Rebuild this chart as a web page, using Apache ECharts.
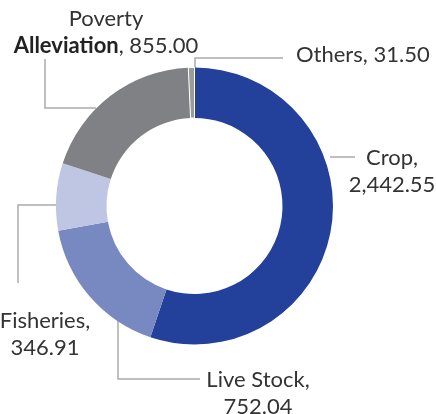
<!DOCTYPE html>
<html>
<head>
<meta charset="utf-8">
<script src="https://cdn.jsdelivr.net/npm/echarts@6/dist/echarts.min.js"></script>
<style>
  html, body { margin: 0; padding: 0; background: #fff; }
  #chart { width: 436px; height: 414px; }
</style>
</head>
<body>
<div id="chart"></div>
<script>
// sector data
var names = ['Crop', 'Live Stock', 'Fisheries', 'Poverty Alleviation', 'Others'];
var values = [2442.55, 752.04, 346.91, 855.00, 31.50];
var colors = ['#23409a', '#7889c2', '#bec6e3', '#808184', '#9b9b9b'];

// label placement: text anchor + elbow leader line
var labelPos = [
  { x: 392, y: 171, align: 'center', line: [[330, 157], [355, 157]] },
  { x: 258, y: 393, align: 'center', line: [[118, 316], [118, 379], [200, 379]] },
  { x: 45, y: 334, align: 'center', line: [[57, 205], [18, 205], [18, 283]] },
  { x: 106, y: 32, align: 'center', line: [[96, 108], [45, 108], [45, 59]] },
  { x: 296, y: 55, align: 'left', line: [[195, 70], [195, 58], [283, 58]] }
];

function fmt(v) {
  return v.toLocaleString('en-US', { minimumFractionDigits: 2, maximumFractionDigits: 2 });
}

var chart = echarts.init(document.getElementById('chart'));

chart.setOption({
  animation: false,
  series: [
    {
      type: 'pie',
      center: [194.5, 206],
      radius: [88, 138.5],
      startAngle: 90,
      clockwise: true,
      avoidLabelOverlap: false,
      emphasis: { disabled: true },
      label: {
        show: true,
        position: 'outside',
        color: '#333',
        fontFamily: 'Lato',
        fontSize: 22,
        lineHeight: 27,
        formatter: function (p) {
          var v = fmt(p.value);
          switch (p.dataIndex) {
            case 3:
              return 'Poverty\n{b|Alleviation}, ' + v;
            case 4:
              return p.name + ', ' + v;
            default:
              return p.name + ',\n' + v;
          }
        },
        rich: {
          b: { fontFamily: 'Lato', fontSize: 22, fontWeight: 'bold', color: '#222', lineHeight: 27 }
        }
      },
      labelLine: {
        show: true,
        lineStyle: { color: '#aaa', width: 1.5 }
      },
      labelLayout: function (params) {
        var pos = labelPos[params.dataIndex];
        return {
          x: pos.x,
          y: pos.y,
          align: pos.align,
          verticalAlign: 'middle',
          labelLinePoints: pos.line
        };
      },
      data: names.map(function (n, i) {
        var item = { name: n, value: values[i], itemStyle: { color: colors[i] } };
        if (i === 4) {
          item.itemStyle.borderColor = '#fff';
          item.itemStyle.borderWidth = 1;
        }
        return item;
      })
    }
  ]
});
</script>
</body>
</html>
